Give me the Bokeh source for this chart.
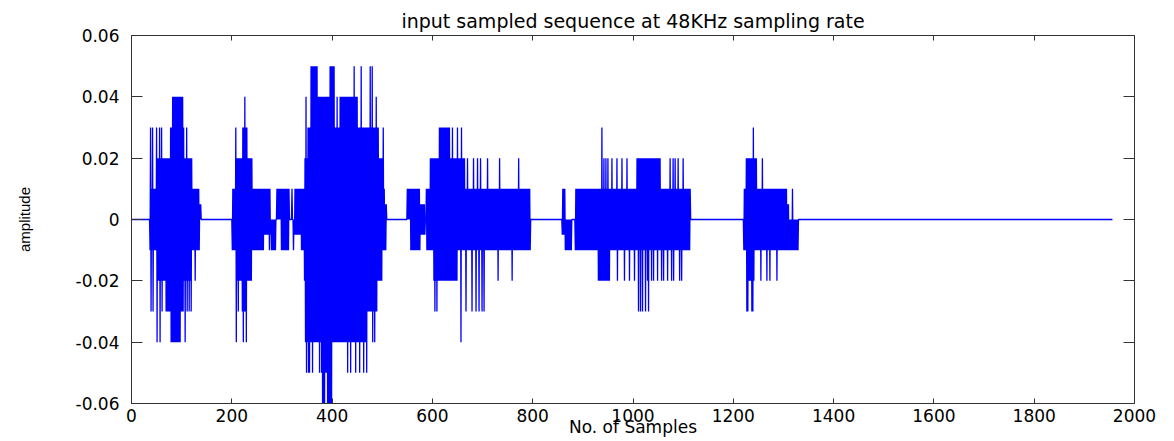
import numpy as np
from bokeh.plotting import figure
from bokeh.models import FixedTicker, LinearAxis, Range1d, ColumnDataSource
from bokeh.embed import file_html
from bokeh.resources import INLINE

# ---------------- data ----------------
N_SAMPLES = 1956

# envelope runs: over [start, end) the signal swings between hi and lo
# (amplitude in units of 0.01)
run_start = [37, 40, 50, 68, 78, 81, 98, 103, 105, 121, 136,
             201, 208, 221, 231, 241, 262, 278, 290, 298, 325,
             338, 345, 351, 358, 371, 381, 386, 391, 395, 401, 405, 415, 451, 471, 491, 501, 506,
             550, 556, 576,
             588, 596, 603, 613, 636, 650, 666,
             859, 865,
             885, 930, 955, 1008, 1055,
             1221, 1226, 1243, 1248, 1307, 1311]
run_end = [40, 50, 68, 78, 81, 98, 103, 105, 121, 136, 140,
           208, 221, 231, 241, 262, 278, 288, 298, 315, 338,
           345, 351, 358, 371, 381, 386, 391, 395, 401, 405, 415, 451, 471, 491, 501, 506, 509,
           556, 576, 586,
           596, 603, 613, 636, 650, 666, 796,
           865, 879,
           930, 955, 1008, 1055, 1115,
           1226, 1243, 1248, 1307, 1311, 1331]
run_hi = [2, 1, 2, 2, 3, 4, 4, 3, 2, 1, 0.5,
          1, 2, 3, 2, 1, 1, 0, 1, 1, 1,
          1, 2, 3, 5, 4, 4, 4, 4, 5, 5, 3, 4, 3, 3, 2, 1, 0.5,
          1, 1, 0.5,
          1, 2, 2, 3, 2, 2, 1,
          1, 0,
          1, 1, 1, 2, 1,
          1, 2, 2, 1, 0.5, 0]
run_lo = [-1, -1, -2, -3, -4, -4, -3, -3, -2, -1, 0,
          -1, -2, -3, -2, -1, -0.5, -1, 0, -1, -0.5,
          -1, -2, -4, -4, -4, -6, -5, -6, -6, -4, -4, -4, -4, -3, -2, -1, -1,
          0, -1, -0.5,
          -1, -1, -2, -2, -2, -1, -1,
          -0.5, -1,
          -1, -2, -1, -1, -1,
          -1, -2, -1, -1, -1, -1]

# isolated samples reaching beyond the envelope
spike_at = [38, 39, 42, 43, 50, 51, 56, 57, 60, 61, 107, 110, 111, 115, 119, 127,
            208, 209, 213, 223, 226, 229, 263, 275, 320, 323,
            347, 348, 349, 353, 355, 361, 375, 379, 410, 431, 437, 444, 447, 455, 458,
            463, 469, 476, 480, 481, 485, 488, 492, 502,
            605, 609, 640, 650, 657, 658, 667, 670, 679, 682, 687, 690, 693, 696,
            699, 703, 710, 731, 734, 759, 772,
            938, 942, 946, 950, 958, 968, 969, 978, 983, 988, 993, 1003, 1011, 1015,
            1019, 1025, 1029, 1031, 1037, 1041, 1049, 1054, 1057, 1061, 1069, 1074,
            1077, 1080, 1081, 1084, 1090, 1093, 1097, 1100,
            1227, 1229, 1237, 1239, 1240, 1255, 1258, 1267, 1273, 1287, 1318]
spike_val = [3, -3, 3, -3, 3, -4, 3, -4, 3, -3, -4, 3, -3, -3, -3, -2,
             3, -4, -3, -4, 4, -4, -1, -1, 1, -1,
             -4, 4, -5, -5, -5, -5, -5, -5, 4, -5, -5, 5, -5, -5, 5,
             -5, -5, 5, 5, -4, -4, 4, 3, 3,
             -3, -3, 3, 3, -4, 3, -3, 2, -3, 2, -3, 2, -3, 2,
             -3, -3, 2, -2, 2, -2, 2,
             3, 2, 2, 2, 2, 2, -2, 2, -2, 2, -2, -2, -3, -3,
             -3, -3, -2, -3, -2, -2, -2, 2, -2, -2, -2, 2,
             -2, 2, -2, 2, 2, -2, -2, 2,
             -3, -3, -3, -3, 3, -2, 2, -2, -2, -2, 1]

x_ticks = [0, 200, 400, 600, 800, 1000, 1200, 1400, 1600, 1800, 2000]
y_ticks = [-0.06, -0.04, -0.02, 0.0, 0.02, 0.04, 0.06]
y_tick_labels = ["-0.06", "-0.04", "-0.02", "0", "0.02", "0.04", "0.06"]

title_text = "input sampled sequence at 48KHz sampling rate"
x_label = "No. of Samples"
y_label = "amplitude"

# ---------------- build sample sequence ----------------
level = np.zeros(N_SAMPLES + 1)
for s0, s1, hi, lo in zip(run_start, run_end, run_hi, run_lo):
    idx = np.arange(s0, s1)
    level[idx] = np.where(idx % 2 == 0, hi, lo)
for s, v in zip(spike_at, spike_val):
    level[s] = v
samples = np.arange(1, N_SAMPLES + 1)
amp = level[1:] * 0.01
src = ColumnDataSource(dict(n=samples, a=amp))

# ---------------- figure ----------------
AX = "#333333"
p = figure(width=1166, height=441, x_range=Range1d(0, 2000), y_range=Range1d(-0.06, 0.06),
           output_backend="svg", toolbar_location=None,
           min_border_left=131, min_border_right=32, min_border_top=35, min_border_bottom=38,
           title=title_text)
p.title.align = "center"
p.title.text_font = "DejaVu Sans"
p.title.text_font_size = "19px"
p.title.text_font_style = "normal"
p.title.text_color = "#000000"
p.title.standoff = 7

p.line("n", "a", source=src, line_color="#0000ff", line_width=1.3)

p.grid.visible = False
p.background_fill_color = "white"
p.border_fill_color = "white"
p.outline_line_color = AX
p.outline_line_width = 1

xa = p.xaxis[0]
xa.ticker = FixedTicker(ticks=x_ticks)
xa.major_tick_in = 5
xa.major_tick_out = 0
xa.minor_tick_line_color = None
xa.major_label_standoff = 5
xa.major_label_text_font = "DejaVu Sans"
xa.major_label_text_font_size = "17px"
xa.major_label_text_color = "#000000"
xa.axis_line_color = AX
xa.major_tick_line_color = AX
xa.axis_label = x_label
xa.axis_label_text_font = "DejaVu Sans"
xa.axis_label_text_font_size = "17px"
xa.axis_label_text_font_style = "normal"
xa.axis_label_text_color = "#000000"
xa.axis_label_standoff = -8

ya = p.yaxis[0]
ya.ticker = FixedTicker(ticks=y_ticks)
ya.major_label_overrides = {t: l for t, l in zip(y_ticks, y_tick_labels)}
ya.major_tick_in = 11
ya.major_tick_out = 0
ya.minor_tick_line_color = None
ya.major_label_standoff = 12
ya.major_label_text_font = "DejaVu Sans"
ya.major_label_text_font_size = "17px"
ya.major_label_text_color = "#000000"
ya.axis_line_color = AX
ya.major_tick_line_color = AX
ya.axis_label = y_label
ya.axis_label_text_font = "Liberation Sans"
ya.axis_label_text_font_size = "15px"
ya.axis_label_text_font_style = "normal"
ya.axis_label_text_color = "#000000"
ya.axis_label_standoff = 40

top_axis = LinearAxis(ticker=FixedTicker(ticks=x_ticks), major_label_text_font_size="1px",
                      major_label_text_color=None, major_label_standoff=0,
                      major_tick_in=5, major_tick_out=0,
                      minor_tick_line_color=None, axis_line_color=None, major_tick_line_color=AX)
p.add_layout(top_axis, "above")
right_axis = LinearAxis(ticker=FixedTicker(ticks=y_ticks), major_label_text_font_size="1px",
                        major_label_text_color=None, major_label_standoff=0,
                        major_tick_in=11, major_tick_out=0,
                        minor_tick_line_color=None, axis_line_color=None, major_tick_line_color=AX)
p.add_layout(right_axis, "right")

open("out.html", "w").write(file_html(p, INLINE))
